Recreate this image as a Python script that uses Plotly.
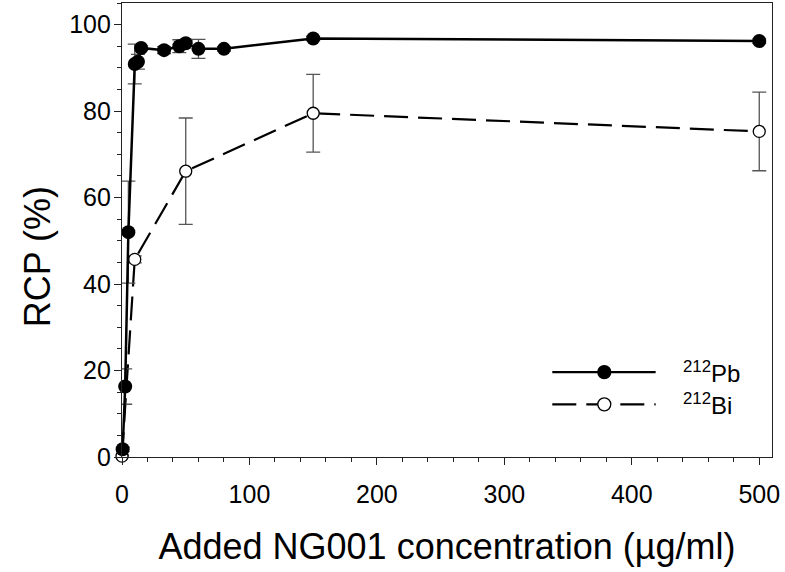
import plotly.graph_objects as go

# ---- data ----
pb_x = [0.5, 2.5, 5, 10, 12.5, 15, 33, 45, 50, 60, 80, 150, 500]
pb_y = [1.8, 16.3, 52.0, 90.9, 91.4, 94.6, 94.1, 95.0, 95.7, 94.4, 94.4, 96.8, 96.2]
pb_err = [0.5, 4.1, 11.8, 4.6, 1.7, 0.5, 0.8, 1.5, 0.7, 2.2, 0.5, 0.5, 0.5]

bi_x = [0, 10, 50, 150, 500]
bi_y = [0.2, 45.7, 66.1, 79.5, 75.3]
bi_err = [0.2, 0.8, 12.3, 9.0, 9.1]

x_ticks = [0, 100, 200, 300, 400, 500]
y_ticks = [0, 20, 40, 60, 80, 100]

FONT = "Liberation Sans, Arial, sans-serif"
ERRC = "#555555"

fig = go.Figure()

fig.add_trace(go.Scatter(
    x=bi_x, y=bi_y, mode="lines+markers", name="212Bi",
    line=dict(color="black", width=2.2, dash="24px,10px"),
    marker=dict(symbol="circle", size=12, color="white", line=dict(color="black", width=1.3)),
    error_y=dict(type="data", array=bi_err, color=ERRC, thickness=1.3, width=7),
    cliponaxis=False, showlegend=False,
))

fig.add_trace(go.Scatter(
    x=pb_x, y=pb_y, mode="lines+markers", name="212Pb",
    line=dict(color="black", width=2.5),
    marker=dict(symbol="circle", size=14, color="black"),
    error_y=dict(type="data", array=pb_err, color=ERRC, thickness=1.3, width=7),
    cliponaxis=False, showlegend=False,
))

# ---- manual legend ----
leg = [("<sup>212</sup>Pb", 0.187, "solid", "black"), ("<sup>212</sup>Bi", 0.116, "24px,10px", "white")]
for text, yy, dash, fill in leg:
    fig.add_shape(type="line", xref="paper", yref="paper", x0=0.662, x1=0.821, y0=yy, y1=yy,
                  line=dict(color="black", width=2.3, dash=dash))
    fig.add_shape(type="circle", xref="paper", yref="paper", xsizemode="pixel", ysizemode="pixel",
                  xanchor=0.742, yanchor=yy, x0=-6.5, x1=6.5, y0=-6.5, y1=6.5,
                  fillcolor=fill, line=dict(color="black", width=1.3))
    fig.add_annotation(text=text, xref="paper", yref="paper", x=0.86, y=yy, xanchor="left",
                       yanchor="middle", showarrow=False, font=dict(family=FONT, size=24, color="black"))

# y-axis title as rotated annotation
fig.add_annotation(text="RCP (%)", xref="paper", yref="paper", x=0, y=0.44, xshift=-85,
                   xanchor="center", yanchor="middle", textangle=-90, showarrow=False,
                   font=dict(family=FONT, size=36, color="black"))

axis_common = dict(
    showline=True, linecolor="#222222", linewidth=1.3, mirror=True,
    ticks="outside", ticklen=7, tickwidth=1.2, tickcolor="#222222",
    showgrid=False, zeroline=False,
    tickfont=dict(family=FONT, size=25, color="black"),
)

fig.update_xaxes(
    range=[0, 510], tickvals=x_ticks, ticklabelstandoff=8,
    minor=dict(dtick=20, ticks="outside", ticklen=4, tickcolor="#222222", tickwidth=1),
    title=dict(text="Added NG001 concentration (µg/ml)", font=dict(family=FONT, size=36, color="black"), standoff=26),
    **axis_common,
)
fig.update_yaxes(
    range=[0, 105], tickvals=y_ticks, ticklabelstandoff=-2,
    minor=dict(dtick=5, ticks="outside", ticklen=4, tickcolor="#222222", tickwidth=1),
    **axis_common,
)

fig.update_layout(
    width=785, height=572,
    margin=dict(l=122, r=13, t=3, b=115, autoexpand=False),
    plot_bgcolor="white", paper_bgcolor="white",
    font=dict(family=FONT, color="black"),
)

fig.write_html("out.html", config={"displayModeBar": False},
               post_script="document.body.style.margin='0px';")
